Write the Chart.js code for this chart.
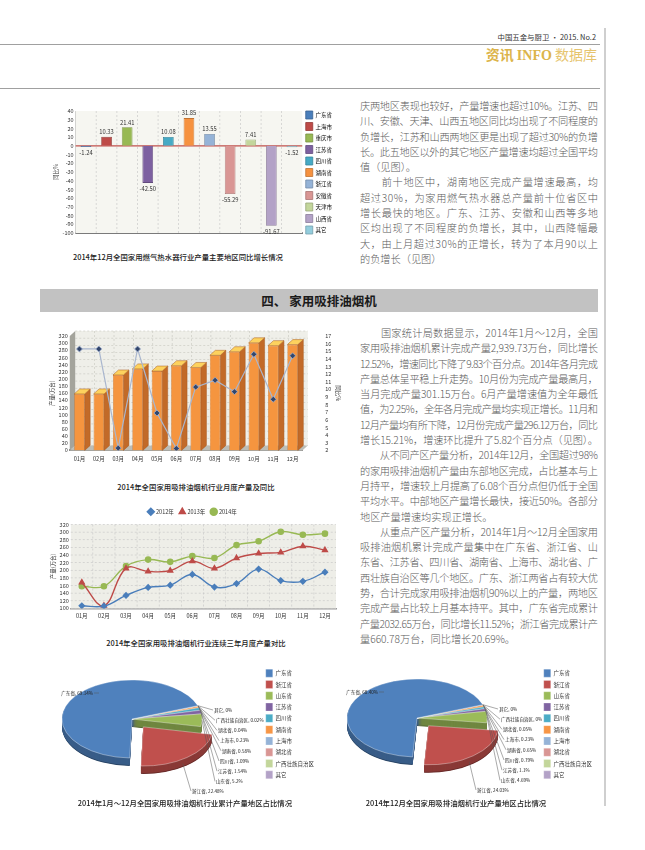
<!DOCTYPE html>
<html>
<head>
<meta charset="utf-8">
<script src="https://cdn.jsdelivr.net/npm/chart.js@4.4.1/dist/chart.umd.min.js"></script>
<style>
body{margin:0;width:645px;height:850px;position:relative;background:#fff;overflow:hidden;font-family:"Noto Sans CJK SC","Noto Sans",sans-serif}
canvas{position:absolute}
.rule{position:absolute;background:#a0a0a0}
.col{position:absolute;left:360px;width:238px;font-size:10.2px;line-height:15.3px;color:#5a5a5a;font-weight:300}
.col div{white-space:nowrap;height:15.3px}
.cap{position:absolute;text-align:center;font-size:7.4px;line-height:10px;color:#222;font-weight:500;white-space:nowrap}
</style>
</head>
<body>
<div class="rule" style="left:0;top:44px;width:600px;height:1px"></div>
<div class="rule" style="left:0;top:88px;width:600px;height:1px"></div>
<div class="rule" style="left:604px;top:28px;width:2px;height:778px;background:#cfcfcf"></div>
<div style="position:absolute;right:49px;top:31px;font-size:7.4px;color:#333;white-space:nowrap">中国五金与厨卫 · 2015. No.2</div>
<div style="position:absolute;right:48px;top:45px;font-size:14px;line-height:18px;color:#dcb44a;white-space:nowrap"><b>资讯 <span style="font-family:'Liberation Serif','DejaVu Serif',serif">INFO</span></b> <span style="color:#e6c46e">数据库</span></div>

<canvas id="c1" width="305" height="145" style="left:40px;top:100px"></canvas>
<div class="cap" style="left:48px;top:252px;width:260px">2014年12月全国家用燃气热水器行业产量主要地区同比增长情况</div>

<div class="col" style="top:98px">
<div><span>庆两地区表现也较好，产量增速也超过10%。江苏、四</span></div>
<div><span>川、安徽、天津、山西五地区同比均出现了不同程度的</span></div>
<div><span>负增长，江苏和山西两地区更是出现了超过30%的负增</span></div>
<div><span>长。此五地区以外的其它地区产量增速均超过全国平均</span></div>
<div class="e"><span>值（见图）。</span></div>
<div><span>　　前十地区中，湖南地区完成产量增速最高，均</span></div>
<div><span>超过30%，为家用燃气热水器总产量前十位省区中</span></div>
<div><span>增长最快的地区。广东、江苏、安徽和山西等多地</span></div>
<div><span>区均出现了不同程度的负增长，其中，山西降幅最</span></div>
<div><span>大，由上月超过30%的正增长，转为了本月90以上</span></div>
<div class="e"><span>的负增长（见图）</span></div>
</div>

<div style="position:absolute;left:40px;top:289px;width:558px;height:23px;background:#c2c2c2;text-align:center;font-size:12.5px;line-height:23px;font-weight:700;color:#1a1a1a">四、 家用吸排油烟机</div>

<canvas id="c2" width="318" height="145" style="left:40px;top:322px"></canvas>
<div class="cap" style="left:96px;top:482px;width:200px">2014年全国家用吸排油烟机行业月度产量及同比</div>

<div class="col" style="top:325px">
<div><span>　　国家统计局数据显示，2014年1月～12月，全国</span></div>
<div><span>家用吸排油烟机累计完成产量2,939.73万台，同比增长</span></div>
<div><span>12.52%，增速同比下降了9.83个百分点。2014年各月完成</span></div>
<div><span>产量总体呈平稳上升走势。10月份为完成产量最高月，</span></div>
<div><span>当月完成产量301.15万台。6月产量增速值为全年最低</span></div>
<div><span>值，为2.25%，全年各月完成产量均实现正增长。11月和</span></div>
<div><span>12月产量均有所下降，12月份完成产量296.12万台，同比</span></div>
<div><span>增长15.21%，增速环比提升了5.82个百分点（见图）。</span></div>
<div><span>　　从不同产区产量分析，2014年12月，全国超过98%</span></div>
<div><span>的家用吸排油烟机产量由东部地区完成，占比基本与上</span></div>
<div><span>月持平，增速较上月提高了6.08个百分点但仍低于全国</span></div>
<div><span>平均水平。中部地区产量增长最快，接近50%。各部分</span></div>
<div class="e"><span>地区产量增速均实现正增长。</span></div>
<div><span>　　从重点产区产量分析，2014年1月～12月全国家用</span></div>
<div><span>吸排油烟机累计完成产量集中在广东省、浙江省、山</span></div>
<div><span>东省、江苏省、四川省、湖南省、上海市、湖北省、广</span></div>
<div><span>西壮族自治区等几个地区。广东、浙江两省占有较大优</span></div>
<div><span>势，合计完成家用吸排油烟机90%以上的产量，两地区</span></div>
<div><span>完成产量占比较上月基本持平。其中，广东省完成累计</span></div>
<div><span>产量2032.65万台，同比增长11.52%；浙江省完成累计产</span></div>
<div class="e"><span>量660.78万台，同比增长20.69%。</span></div>
</div>

<canvas id="c3" width="310" height="128" style="left:40px;top:501px"></canvas>
<div class="cap" style="left:86px;top:638px;width:220px">2014年全国家用吸排油烟机行业连续三年月度产量对比</div>

<canvas id="p1" width="295" height="135" style="left:45px;top:665px"></canvas>
<div class="cap" style="left:60px;top:798px;width:250px">2014年1月～12月全国家用吸排油烟机行业累计产量地区占比情况</div>
<canvas id="p2" width="290" height="135" style="left:330px;top:665px"></canvas>
<div class="cap" style="left:346px;top:798px;width:220px">2014年12月全国家用吸排油烟机行业产量地区占比情况</div>

<script>
// 燃气热水器 2014年12月 同比增长 (%)
const heaterRegions = ['广东省','上海市','重庆市','江苏省','四川省','湖南省','浙江省','安徽省','天津市','山西省','其它'];
const heaterGrowth = [-1.24, 10.33, 21.41, -42.50, 10.08, 31.85, 13.55, -55.29, 7.41, -91.67, -1.52];
const heaterColors = ['#4a7ebb','#be4b48','#98b954','#7d60a0','#46aac5','#f69240','#95b3d7','#d99694','#c3d69b','#b3a2c7','#93cddd'];

// 吸排油烟机 月度产量 (万台) 及同比 (%)
const months = ['01月','02月','03月','04月','05月','06月','07月','08月','09月','10月','11月','12月'];
const prod2014 = [158, 158, 211, 228, 222, 237, 232, 266, 276, 301, 293, 296];
const growth2014 = [15.3, 15.3, 2.3, 15.3, 6.9, 2.25, 10.3, 11.2, 9.7, 14.6, 8.7, 14.4];
const prod2012 = [107, 106, 134, 155, 161, 189, 156, 165, 203, 173, 171, 195];
const prod2013 = [168, 107, 205, 197, 199, 224, 205, 232, 244, 247, 263, 253];

// 地区占比 (%)
const pieRegions = ['广东省','浙江省','山东省','江苏省','四川省','湖南省','上海市','湖北省','广西壮族自治区','其它'];
const pieYear = [69.14, 22.48, 5.2, 1.54, 1.09, 0.58, 0.23, 0.04, 0.02, 0];
const pieDec = [68.40, 24.03, 4.69, 1.1, 0.79, 0.65, 0.23, 0.05, 0, 0];
const pieColors = ['#4f81bd','#c0504d','#9bbb59','#8064a2','#4bacc6','#f79646','#95b3d7','#d99694','#c3d69b','#b3a2c7'];

Chart.defaults.font.family = '"Noto Sans CJK SC","Noto Sans",sans-serif';
Chart.defaults.color = '#333';
Chart.defaults.animation = false;
Chart.defaults.plugins.tooltip.enabled = false;

function shade(hex, f){
  const n = parseInt(hex.slice(1), 16);
  const r = Math.round((n >> 16) * f), g = Math.round((n >> 8 & 255) * f), b = Math.round((n & 255) * f);
  return 'rgb(' + r + ',' + g + ',' + b + ')';
}
const noGrid = {display: false, drawTicks: false};

// plot background + dashed grid
const plotBg = {
  id: 'plotBg',
  beforeDatasetsDraw(chart, args, o){
    const {ctx, chartArea: c, scales} = chart;
    ctx.save();
    if (o.color){ ctx.fillStyle = o.color; ctx.fillRect(c.left, c.top, c.width, c.height); }
    ctx.strokeStyle = o.grid || '#c4c4c4'; ctx.lineWidth = 0.6; ctx.setLineDash([2, 2]);
    if (o.vgrid){
      const x = scales.x, n = x.ticks.length;
      for (let i = 1; i < n; i++){
        const px = (x.getPixelForValue(i - 1) + x.getPixelForValue(i)) / 2;
        ctx.beginPath(); ctx.moveTo(px, c.top); ctx.lineTo(px, c.bottom); ctx.stroke();
      }
    }
    if (o.hgrid){
      const y = scales.y;
      y.ticks.forEach(t => {
        const py = y.getPixelForValue(t.value);
        ctx.beginPath(); ctx.moveTo(c.left, py); ctx.lineTo(c.right, py); ctx.stroke();
      });
    }
    if (o.zero){
      const py = scales.y.getPixelForValue(0);
      ctx.setLineDash([]); ctx.strokeStyle = o.zero; ctx.lineWidth = 1.4;
      ctx.beginPath(); ctx.moveTo(c.left, py); ctx.lineTo(c.right, py); ctx.stroke();
    }
    ctx.restore();
  }
};

const barValueLabels = {
  id: 'barValueLabels',
  afterDatasetsDraw(chart){
    const ctx = chart.ctx, meta = chart.getDatasetMeta(0), vals = chart.data.datasets[0].data;
    ctx.save();
    ctx.font = '5.8px "Noto Sans CJK SC"'; ctx.fillStyle = '#333'; ctx.textAlign = 'center';
    meta.data.forEach((b, i) => {
      const v = vals[i];
      if (v >= 0){ ctx.textBaseline = 'bottom'; ctx.fillText(v.toFixed(2), b.x, b.y - 2); }
      else { ctx.textBaseline = 'top'; ctx.fillText(v.toFixed(2), b.x, b.y + 3); }
    });
    ctx.restore();
  }
};

new Chart(document.getElementById('c1'), {
  type: 'bar',
  data: {
    labels: heaterRegions,
    datasets: [{
      data: heaterGrowth,
      backgroundColor: heaterColors,
      borderColor: heaterColors.map(c => shade(c, 0.78)),
      borderWidth: 0.8,
      barPercentage: 0.52,
      categoryPercentage: 1
    }]
  },
  options: {
    responsive: false,
    layout: {padding: {left: 12, top: 0, right: 3, bottom: 0}},
    scales: {
      x: {ticks: {display: false}, grid: noGrid, border: {color: '#7a7a7a', width: 2},
          afterFit: s => { s.height = 12; }},
      xTop: {position: 'top', type: 'category', labels: heaterRegions, ticks: {display: false}, grid: noGrid, border: {display: false},
          afterFit: s => { s.height = 11; }},
      y: {
        min: -100, max: 40,
        ticks: {stepSize: 10, font: {size: 5.5}, padding: 2, autoSkip: false},
        grid: noGrid,
        border: {color: '#b0b0b0', width: 0.8},
        title: {display: true, text: '同比%', font: {size: 5.5}, padding: 1}
      }
    },
    plugins: {
      legend: {
        position: 'right',
        labels: {
          boxWidth: 7, boxHeight: 8, padding: 3.5, font: {size: 5.5},
          generateLabels: () => heaterRegions.map((r, i) => ({
            text: r, fillStyle: heaterColors[i], strokeStyle: shade(heaterColors[i], 0.78), lineWidth: 0.8, index: i
          }))
        }
      },
      plotBg: {color: '#f6f6f1', vgrid: true, zero: '#c0504d'}
    }
  },
  plugins: [plotBg, barValueLabels]
});

// 3D bars for the monthly chart
const bar3d = {
  id: 'bar3d',
  beforeDatasetsDraw(chart, args, o){
    const {ctx, chartArea: {left, right, top, bottom}, scales} = chart;
    const dx = o.dx, dy = o.dy;
    ctx.save();
    ctx.fillStyle = '#efefe9';
    ctx.fillRect(left + dx, top - dy, right - left, bottom - top);
    ctx.strokeStyle = '#c6c6be'; ctx.lineWidth = 0.6; ctx.setLineDash([2, 2]);
    scales.y.ticks.forEach(t => {
      const py = scales.y.getPixelForValue(t.value) - dy;
      ctx.beginPath(); ctx.moveTo(left + dx, py); ctx.lineTo(right + dx, py); ctx.stroke();
    });
    const x = scales.x, n = x.ticks.length;
    for (let i = 1; i < n; i++){
      const px = (x.getPixelForValue(i - 1) + x.getPixelForValue(i)) / 2 + dx;
      ctx.beginPath(); ctx.moveTo(px, top - dy); ctx.lineTo(px, bottom - dy); ctx.stroke();
    }
    ctx.setLineDash([]);
    ctx.fillStyle = '#bdbdb5';
    ctx.beginPath(); ctx.moveTo(left, bottom); ctx.lineTo(left + dx, bottom - dy); ctx.lineTo(right + dx, bottom - dy); ctx.lineTo(right, bottom); ctx.closePath(); ctx.fill();
    ctx.fillStyle = '#a4a49c';
    ctx.beginPath(); ctx.moveTo(left, top); ctx.lineTo(left + dx, top - dy); ctx.lineTo(left + dx, bottom - dy); ctx.lineTo(left, bottom); ctx.closePath(); ctx.fill();
    ctx.restore();
  },
  afterDatasetDraw(chart, args, o){
    if (args.meta.type !== 'bar') return;
    const ctx = chart.ctx, dx = o.dx, dy = o.dy;
    ctx.save();
    ctx.lineWidth = 0.5; ctx.strokeStyle = '#a85a20';
    args.meta.data.forEach(b => {
      const {x, y, base, width} = b.getProps(['x', 'y', 'base', 'width'], true);
      const l = x - width / 2, r = x + width / 2;
      ctx.fillStyle = '#c26a28';
      ctx.beginPath(); ctx.moveTo(r, y); ctx.lineTo(r + dx, y - dy); ctx.lineTo(r + dx, base - dy); ctx.lineTo(r, base); ctx.closePath(); ctx.fill(); ctx.stroke();
      ctx.fillStyle = '#fdd25e';
      ctx.beginPath(); ctx.moveTo(l, y); ctx.lineTo(l + dx, y - dy); ctx.lineTo(r + dx, y - dy); ctx.lineTo(r, y); ctx.closePath(); ctx.fill(); ctx.stroke();
    });
    ctx.restore();
  }
};

new Chart(document.getElementById('c2'), {
  type: 'bar',
  data: {
    labels: months,
    datasets: [
      {
        type: 'line', data: growth2014, yAxisID: 'y1', order: 0,
        borderColor: '#a9b6ce', borderWidth: 1.2, tension: 0,
        pointStyle: 'rectRot', pointRadius: 3, pointBackgroundColor: '#33466b', pointBorderColor: '#9fb0d0', pointBorderWidth: 0.8
      },
      {
        type: 'bar', data: prod2014, yAxisID: 'y', order: 1,
        backgroundColor: '#f5953f', borderColor: '#c97228', borderWidth: 0.6,
        barPercentage: 0.54, categoryPercentage: 1
      }
    ]
  },
  options: {
    responsive: false,
    layout: {padding: {left: 8, top: 14, right: 16, bottom: 0}},
    scales: {
      x: {ticks: {font: {size: 5.5}, padding: 5, maxRotation: 0, minRotation: 0, autoSkip: false},
          grid: noGrid, border: {color: '#8c8c8c', width: 2}},
      y: {
        min: 0, max: 320, ticks: {stepSize: 20, font: {size: 5.5}, padding: 2, autoSkip: false},
        grid: noGrid, border: {display: false},
        title: {display: true, text: '产量(万台)', font: {size: 5.5}, padding: 1}
      },
      // empty gap between the plot and the right-hand axis
      gap: {
        position: 'right', type: 'linear', weight: 0, ticks: {display: false}, grid: noGrid, border: {display: false},
        afterFit: s => { s.width = 21; }
      },
      y1: {
        position: 'right', weight: 1, min: 2, max: 17, ticks: {stepSize: 1, font: {size: 5.5}, padding: 2, autoSkip: false},
        grid: noGrid, border: {display: false},
        title: {display: true, text: '同比%', font: {size: 5.5}, padding: 1}
      }
    },
    plugins: {legend: {display: false}, bar3d: {dx: 5.5, dy: 5}}
  },
  plugins: [bar3d]
});

new Chart(document.getElementById('c3'), {
  type: 'line',
  data: {
    labels: months,
    datasets: [
      {label: '2012年', data: prod2012, borderColor: '#4a7ebb', backgroundColor: '#4a7ebb', pointStyle: 'rectRot', pointRadius: 2.6, borderWidth: 1.4, tension: 0.4},
      {label: '2013年', data: prod2013, borderColor: '#be4b48', backgroundColor: '#be4b48', pointStyle: 'triangle', pointRadius: 2.8, borderWidth: 1.4, tension: 0.4},
      {label: '2014年', data: prod2014, borderColor: '#98b954', backgroundColor: '#98b954', pointStyle: 'circle', pointRadius: 2.6, borderWidth: 1.4, tension: 0.4}
    ]
  },
  options: {
    responsive: false,
    layout: {padding: {left: 9, top: 2, right: 14, bottom: 6}},
    scales: {
      x: {offset: true, ticks: {font: {size: 5.5}, padding: 4, maxRotation: 0, autoSkip: false},
          grid: noGrid, border: {color: '#9a9a9a', width: 1.5}},
      y: {
        min: 100, max: 320, ticks: {stepSize: 20, font: {size: 5.5}, padding: 2, autoSkip: false},
        grid: noGrid, border: {display: false},
        title: {display: true, text: '产量(万台)', font: {size: 5.5}, padding: 1}
      }
    },
    plugins: {
      legend: {position: 'top', labels: {usePointStyle: true, boxWidth: 5, boxHeight: 5, padding: 6, font: {size: 5.5}}},
      plotBg: {color: '#eeeee8', vgrid: true, hgrid: true}
    }
  },
  plugins: [plotBg]
});

// pies: squashed to an ellipse with a side wall
function pieFmt(v){ return v === 0 ? '0' : (v >= 10 ? v.toFixed(2) : String(v)); }
const pie3d = {
  id: 'pie3d',
  beforeDatasetsDraw(chart, args, o){
    const arcs = chart.getDatasetMeta(0).data, ctx = chart.ctx;
    const R = arcs[0].outerRadius, cx = arcs[0].x, cy = arcs[0].y, sx = o.rx / R, sy = o.ry / R;
    chart.$pieMap = (px, py) => [o.cx + (px - cx) * sx, o.cy + (py - cy) * sy];
    const cols = chart.data.datasets[0].backgroundColor;
    ctx.save();
    ctx.translate(o.cx, o.cy); ctx.scale(sx, sy); ctx.translate(-cx, -cy);
    for (let k = o.depth; k > 0; k -= 0.5){
      const d = k / sy;
      arcs.forEach((el, i) => {
        if (el.endAngle - el.startAngle <= 0) return;
        const off = (el.options.offset || 0) / 4, h = (el.startAngle + el.endAngle) / 2;
        const ox = cx + Math.cos(h) * off, oy = cy + Math.sin(h) * off + d;
        ctx.beginPath(); ctx.moveTo(ox, oy); ctx.arc(ox, oy, R, el.startAngle, el.endAngle); ctx.closePath();
        ctx.fillStyle = shade(cols[i], k > o.depth - 1 ? 0.55 : 0.72); ctx.fill();
      });
    }
  },
  afterDatasetsDraw(chart, args, o){
    const ctx = chart.ctx;
    ctx.restore();
    const arcs = chart.getDatasetMeta(0).data, vals = chart.data.datasets[0].data, labels = chart.data.labels;
    const R = arcs[0].outerRadius, cx = arcs[0].x, cy = arcs[0].y, n = arcs.length;
    ctx.save();
    ctx.font = '4.6px "Noto Sans CJK SC"'; ctx.fillStyle = '#222'; ctx.strokeStyle = '#555'; ctx.lineWidth = 0.5; ctx.textBaseline = 'middle';
    const seg = (x1, y1, x2, y2) => { ctx.beginPath(); ctx.moveTo(x1, y1); ctx.lineTo(x2, y2); ctx.stroke(); };
    arcs.forEach((el, j) => {
      const i = n - 1 - j;
      const off = (el.options.offset || 0) / 4, h = (el.startAngle + el.endAngle) / 2;
      const [ex, ey] = chart.$pieMap(cx + Math.cos(h) * (R + off), cy + Math.sin(h) * (R + off));
      const txt = labels[j] + ', ' + pieFmt(vals[j]) + '%';
      if (i === 0){
        const tx = o.cx - 39, ty = o.cy - 26;
        ctx.textAlign = 'right'; ctx.fillText(txt, tx, ty); seg(tx + 1, ty, tx + 6, ty);
      } else if (i === 1){
        const tx = o.cx + 60, ty = o.cy + 72;
        ctx.textAlign = 'left'; ctx.fillText(txt, tx, ty); seg(ex - 4, ey + o.depth - 2, tx - 1, ty);
      } else {
        const r = n - 1 - i, tx = o.cx + 90 - Math.abs(r - 4) * 2, ty = o.cy - 9 + r * 10.2;
        ctx.textAlign = 'left'; ctx.fillText(txt, tx, ty); seg(ex, ey, tx - 1, ty);
      }
    });
    ctx.restore();
  }
};

function makePie(id, values, padRight, center){
  const rev = a => a.slice().reverse();
  new Chart(document.getElementById(id), {
    type: 'pie',
    data: {
      labels: rev(pieRegions),
      datasets: [{
        data: rev(values),
        backgroundColor: rev(pieColors),
        borderColor: 'rgba(255,255,255,0.5)',
        borderWidth: 0.5,
        offset: rev(pieRegions.map(r => r === '浙江省' ? 40 : 0))
      }]
    },
    options: {
      responsive: false,
      rotation: 70,
      layout: {padding: {left: 0, top: 0, right: padRight, bottom: 17}},
      plugins: {
        legend: {position: 'right', reverse: true, labels: {boxWidth: 7, boxHeight: 8, padding: 3.3, font: {size: 5.5}}},
        pie3d: {cx: center[0], cy: center[1], rx: 70, ry: 39, depth: 8}
      }
    },
    plugins: [pie3d]
  });
}
makePie('p1', pieYear, 16, [87, 54]);
makePie('p2', pieDec, 18, [87, 53]);

// stretch or squeeze each full text line to the column width
function fitLines(){
  document.querySelectorAll('.col div').forEach(d => {
    d.style.letterSpacing = '0px';
    const s = d.firstElementChild;
    const w = s.getBoundingClientRect().width, n = [...s.textContent].length;
    const colW = d.parentNode.getBoundingClientRect().width;
    if (d.classList.contains('e')){
      if (w > colW) d.style.letterSpacing = ((colW - w) / (n - 1)) + 'px';
      return;
    }
    d.style.letterSpacing = ((colW - w) / (n - 1)) + 'px';
  });
}
fitLines();
if (document.fonts) document.fonts.ready.then(fitLines);
</script>
</body>
</html>
